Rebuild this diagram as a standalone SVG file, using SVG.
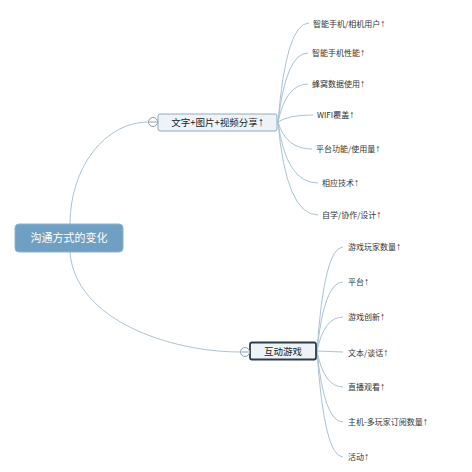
<svg xmlns="http://www.w3.org/2000/svg" width="472" height="472" viewBox="0 0 472 472">
<style>
.bg{fill:#ffffff}
.conn path{fill:none;stroke:#a9c3d4;stroke-width:1}
.leaf{font-family:"Noto Sans CJK SC","Liberation Sans",sans-serif;font-size:8px;fill:#333333}
.sub{font-family:"Noto Sans CJK SC","Liberation Sans",sans-serif;font-size:9.5px;fill:#222222;text-anchor:middle}
.root{font-family:"Noto Sans CJK SC","Liberation Sans",sans-serif;font-size:11px;fill:#ffffff;text-anchor:middle}
.ar{font-family:"Liberation Sans","DejaVu Sans",sans-serif;font-size:1.3em}
.tog{fill:#ffffff;stroke:#8e9ba6;stroke-width:1}
</style>
<rect class="bg" x="0" y="0" width="472" height="472"/>
<g id="connectors" class="conn">
<path d="M70,224 A78,102 0 0 1 148.5,122"/>
<path d="M70,252 C75,320 170,352 240.5,352"/>
<path d="M278,122 Q286,23 309,23"/>
<path d="M278,122 Q286,53 308,53"/>
<path d="M278,122 Q286,84 308,84"/>
<path d="M278,122 Q288,115 313,115"/>
<path d="M278,122 Q286,149 312,149"/>
<path d="M278,122 Q286,183 318,183"/>
<path d="M278,122 Q286,215 318,215"/>
<path d="M317,351 Q324,247 343,247"/>
<path d="M317,351 Q324,282 343,282"/>
<path d="M317,351 Q324,317 343,317"/>
<path d="M317,351 L343,352"/>
<path d="M317,351 Q324,387 343,387"/>
<path d="M317,351 Q324,422 343,422"/>
<path d="M317,351 Q324,457 343,457"/>
</g>
<g id="root">
<rect x="15" y="224" width="108" height="28" rx="4" fill="#6f9fc2" stroke="#8fb3cd" stroke-width="1"/>
<text class="root" x="69" y="242">沟通方式的变化</text>
</g>
<g id="node-share">
<rect x="158" y="114" width="119" height="17" rx="2" fill="#eef3f8" stroke="#93a8bb" stroke-width="1"/>
<circle class="tog" cx="153" cy="122" r="4.5"/>
<line x1="149.5" y1="122" x2="156.5" y2="122" stroke="#8e9ba6" stroke-width="1"/>
<text class="sub" x="217.5" y="126">文字+图片+视频分享<tspan class="ar">↑</tspan></text>
</g>
<g id="node-game">
<rect x="250" y="342.5" width="66" height="17" rx="2" fill="#eef3f8" stroke="#2e3d4a" stroke-width="1.8"/>
<circle class="tog" cx="245" cy="352" r="4.5"/>
<line x1="241.5" y1="352" x2="248.5" y2="352" stroke="#8e9ba6" stroke-width="1"/>
<text class="sub" x="283" y="355">互动游戏</text>
</g>
<g id="leaf-1"><text class="leaf" x="313" y="27">智能手机/相机用户<tspan class="ar">↑</tspan></text></g>
<g id="leaf-2"><text class="leaf" x="312" y="56">智能手机性能<tspan class="ar">↑</tspan></text></g>
<g id="leaf-3"><text class="leaf" x="312" y="87">蜂窝数据使用<tspan class="ar">↑</tspan></text></g>
<g id="leaf-4"><text class="leaf" x="317" y="118">WIFI覆盖<tspan class="ar">↑</tspan></text></g>
<g id="leaf-5"><text class="leaf" x="316" y="152">平台功能/使用量<tspan class="ar">↑</tspan></text></g>
<g id="leaf-6"><text class="leaf" x="322" y="186">相应技术<tspan class="ar">↑</tspan></text></g>
<g id="leaf-7"><text class="leaf" x="322" y="218">自学/协作/设计<tspan class="ar">↑</tspan></text></g>
<g id="leaf-8"><text class="leaf" x="348" y="250">游戏玩家数量<tspan class="ar">↑</tspan></text></g>
<g id="leaf-9"><text class="leaf" x="348" y="285">平台<tspan class="ar">↑</tspan></text></g>
<g id="leaf-10"><text class="leaf" x="348" y="320">游戏创新<tspan class="ar">↑</tspan></text></g>
<g id="leaf-11"><text class="leaf" x="348" y="356">文本/谈话<tspan class="ar">↑</tspan></text></g>
<g id="leaf-12"><text class="leaf" x="348" y="390">直播观看<tspan class="ar">↑</tspan></text></g>
<g id="leaf-13"><text class="leaf" x="348" y="425">主机-多玩家订阅数量<tspan class="ar">↑</tspan></text></g>
<g id="leaf-14"><text class="leaf" x="348" y="460">活动<tspan class="ar">↑</tspan></text></g>
</svg>
